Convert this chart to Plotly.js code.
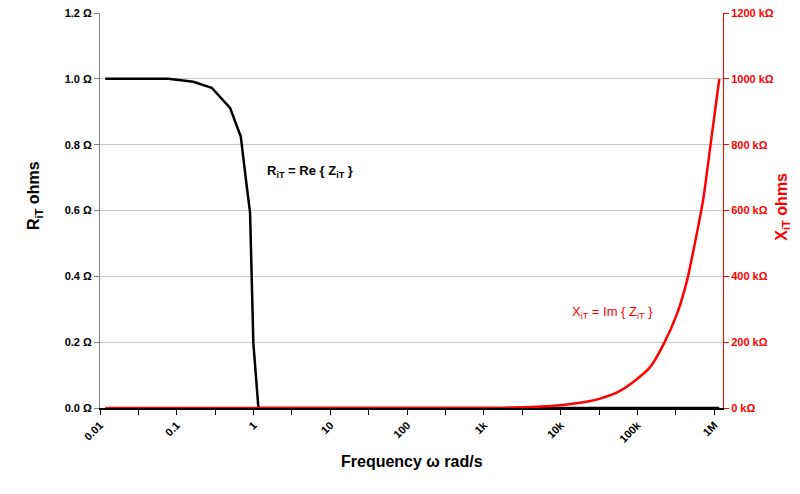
<!DOCTYPE html>
<html>
<head>
<meta charset="utf-8">
<script src="https://cdn.plot.ly/plotly-3.0.1.min.js"></script>
<style>html,body{margin:0;padding:0;background:#fff;}#chart{width:800px;height:494px;}</style>
</head>
<body>
<div id="chart"></div>
<script>
// Frequency (rad/s) and real part R_iT (ohms)
const freqR = [0.0117, 0.0776, 0.164, 0.285, 0.494, 0.681, 0.815, 0.90, 0.993, 1.156, 1.16e6];
const resistR = [1.0, 1.0, 0.991, 0.973, 0.912, 0.825, 0.673, 0.593, 0.197, 0, 0];
// Frequency (rad/s) and imaginary part X_iT (kOhms)
const freqX = [0.0117, 1334, 5000, 9870, 24300, 32700, 55000, 88900, 146700, 218800, 326700, 440600, 712500, 887200, 1161000];
const reactX = [0, 0, 4, 8.2, 21, 28.5, 48, 80, 125, 194, 286, 387, 630, 795, 1000];
// X-axis ticks (half-decade tick marks, labels on decades)
const xTickVals = [0.01, 0.0316, 0.1, 0.316, 1, 3.16, 10, 31.6, 100, 316, 1000, 3162, 10000, 31623, 100000, 316228, 1000000];
const xTickText = ['0.01', '', '0.1', '', '1', '', '10', '', '100', '', '1k', '', '10k', '', '100k', '', '1M'];

const font = 'Arial, "Liberation Sans", sans-serif';

const traces = [
  {x: freqX, y: reactX, yaxis: 'y2', mode: 'lines', line: {color: '#ff0000', width: 2.5, shape: 'spline', smoothing: 0.6}, hoverinfo: 'skip'},
  {x: freqR, y: resistR, yaxis: 'y', mode: 'lines', line: {color: '#000000', width: 2.5}, hoverinfo: 'skip'}
];

const layout = {
  width: 800, height: 494,
  margin: {l: 100, r: 77.3, t: 13.3, b: 86.3},
  paper_bgcolor: '#ffffff', plot_bgcolor: '#ffffff',
  showlegend: false,
  font: {family: font, size: 11, color: '#000'},
  xaxis: {
    type: 'log', range: [-2, 6.113],
    tickmode: 'array', tickvals: xTickVals, ticktext: xTickText,
    tickangle: -45, ticks: 'outside', ticklen: 5, tickcolor: '#000',
    showline: true, linecolor: '#000', linewidth: 1.5,
    showgrid: false, zeroline: false,
    tickfont: {family: font, size: 11, color: '#000', weight: 'bold'}
  },
  yaxis: {
    range: [0, 1.2], dtick: 0.2, tick0: 0, tickformat: '.1f', ticksuffix: ' Ω',
    ticks: 'outside', ticklen: 5, tickcolor: '#808080',
    showline: true, linecolor: '#808080', linewidth: 1,
    showgrid: true, gridcolor: '#c8c8c8', gridwidth: 1, zeroline: false,
    tickfont: {family: font, size: 11, color: '#000', weight: 'bold'}
  },
  yaxis2: {
    overlaying: 'y', side: 'right', anchor: 'x',
    range: [0, 1200], dtick: 200, tick0: 0, ticksuffix: ' kΩ',
    ticks: 'outside', ticklen: 5, tickcolor: '#ff0000',
    showline: true, linecolor: '#ff0000', linewidth: 1,
    showgrid: false, zeroline: false,
    tickfont: {family: font, size: 11, color: '#ff0000', weight: 'bold'}
  },
  annotations: [
    {xref: 'paper', yref: 'paper', x: -0.104, y: 0.537, xanchor: 'center', yanchor: 'middle',
     text: 'R<sub>iT</sub> ohms', textangle: -90,
     showarrow: false, font: {family: font, size: 16, color: '#000', weight: 'bold'}},
    {xref: 'paper', yref: 'paper', x: 1.095, y: 0.51, xanchor: 'center', yanchor: 'middle',
     text: 'X<sub>iT</sub> ohms', textangle: -90,
     showarrow: false, font: {family: font, size: 16, color: '#ff0000', weight: 'bold'}},
    {xref: 'paper', yref: 'paper', x: 0.5, y: -0.135, xanchor: 'center', yanchor: 'middle',
     text: 'Frequency ω rad/s',
     showarrow: false, font: {family: font, size: 16, color: '#000', weight: 'bold'}},
    {xref: 'paper', yref: 'paper', x: 0.265, y: 0.598, xanchor: 'left', yanchor: 'middle',
     text: 'R<sub>iT</sub> = Re { Z<sub>iT</sub> }',
     showarrow: false, font: {family: font, size: 13, color: '#000', weight: 'bold'}},
    {xref: 'paper', yref: 'paper', x: 0.755, y: 0.243, xanchor: 'left', yanchor: 'middle',
     text: 'X<sub>iT</sub> = Im { Z<sub>iT</sub> }',
     showarrow: false, font: {family: font, size: 13, color: '#ff0000'}}
  ]
};

Plotly.newPlot('chart', traces, layout, {displayModeBar: false, staticPlot: true});
</script>
</body>
</html>
